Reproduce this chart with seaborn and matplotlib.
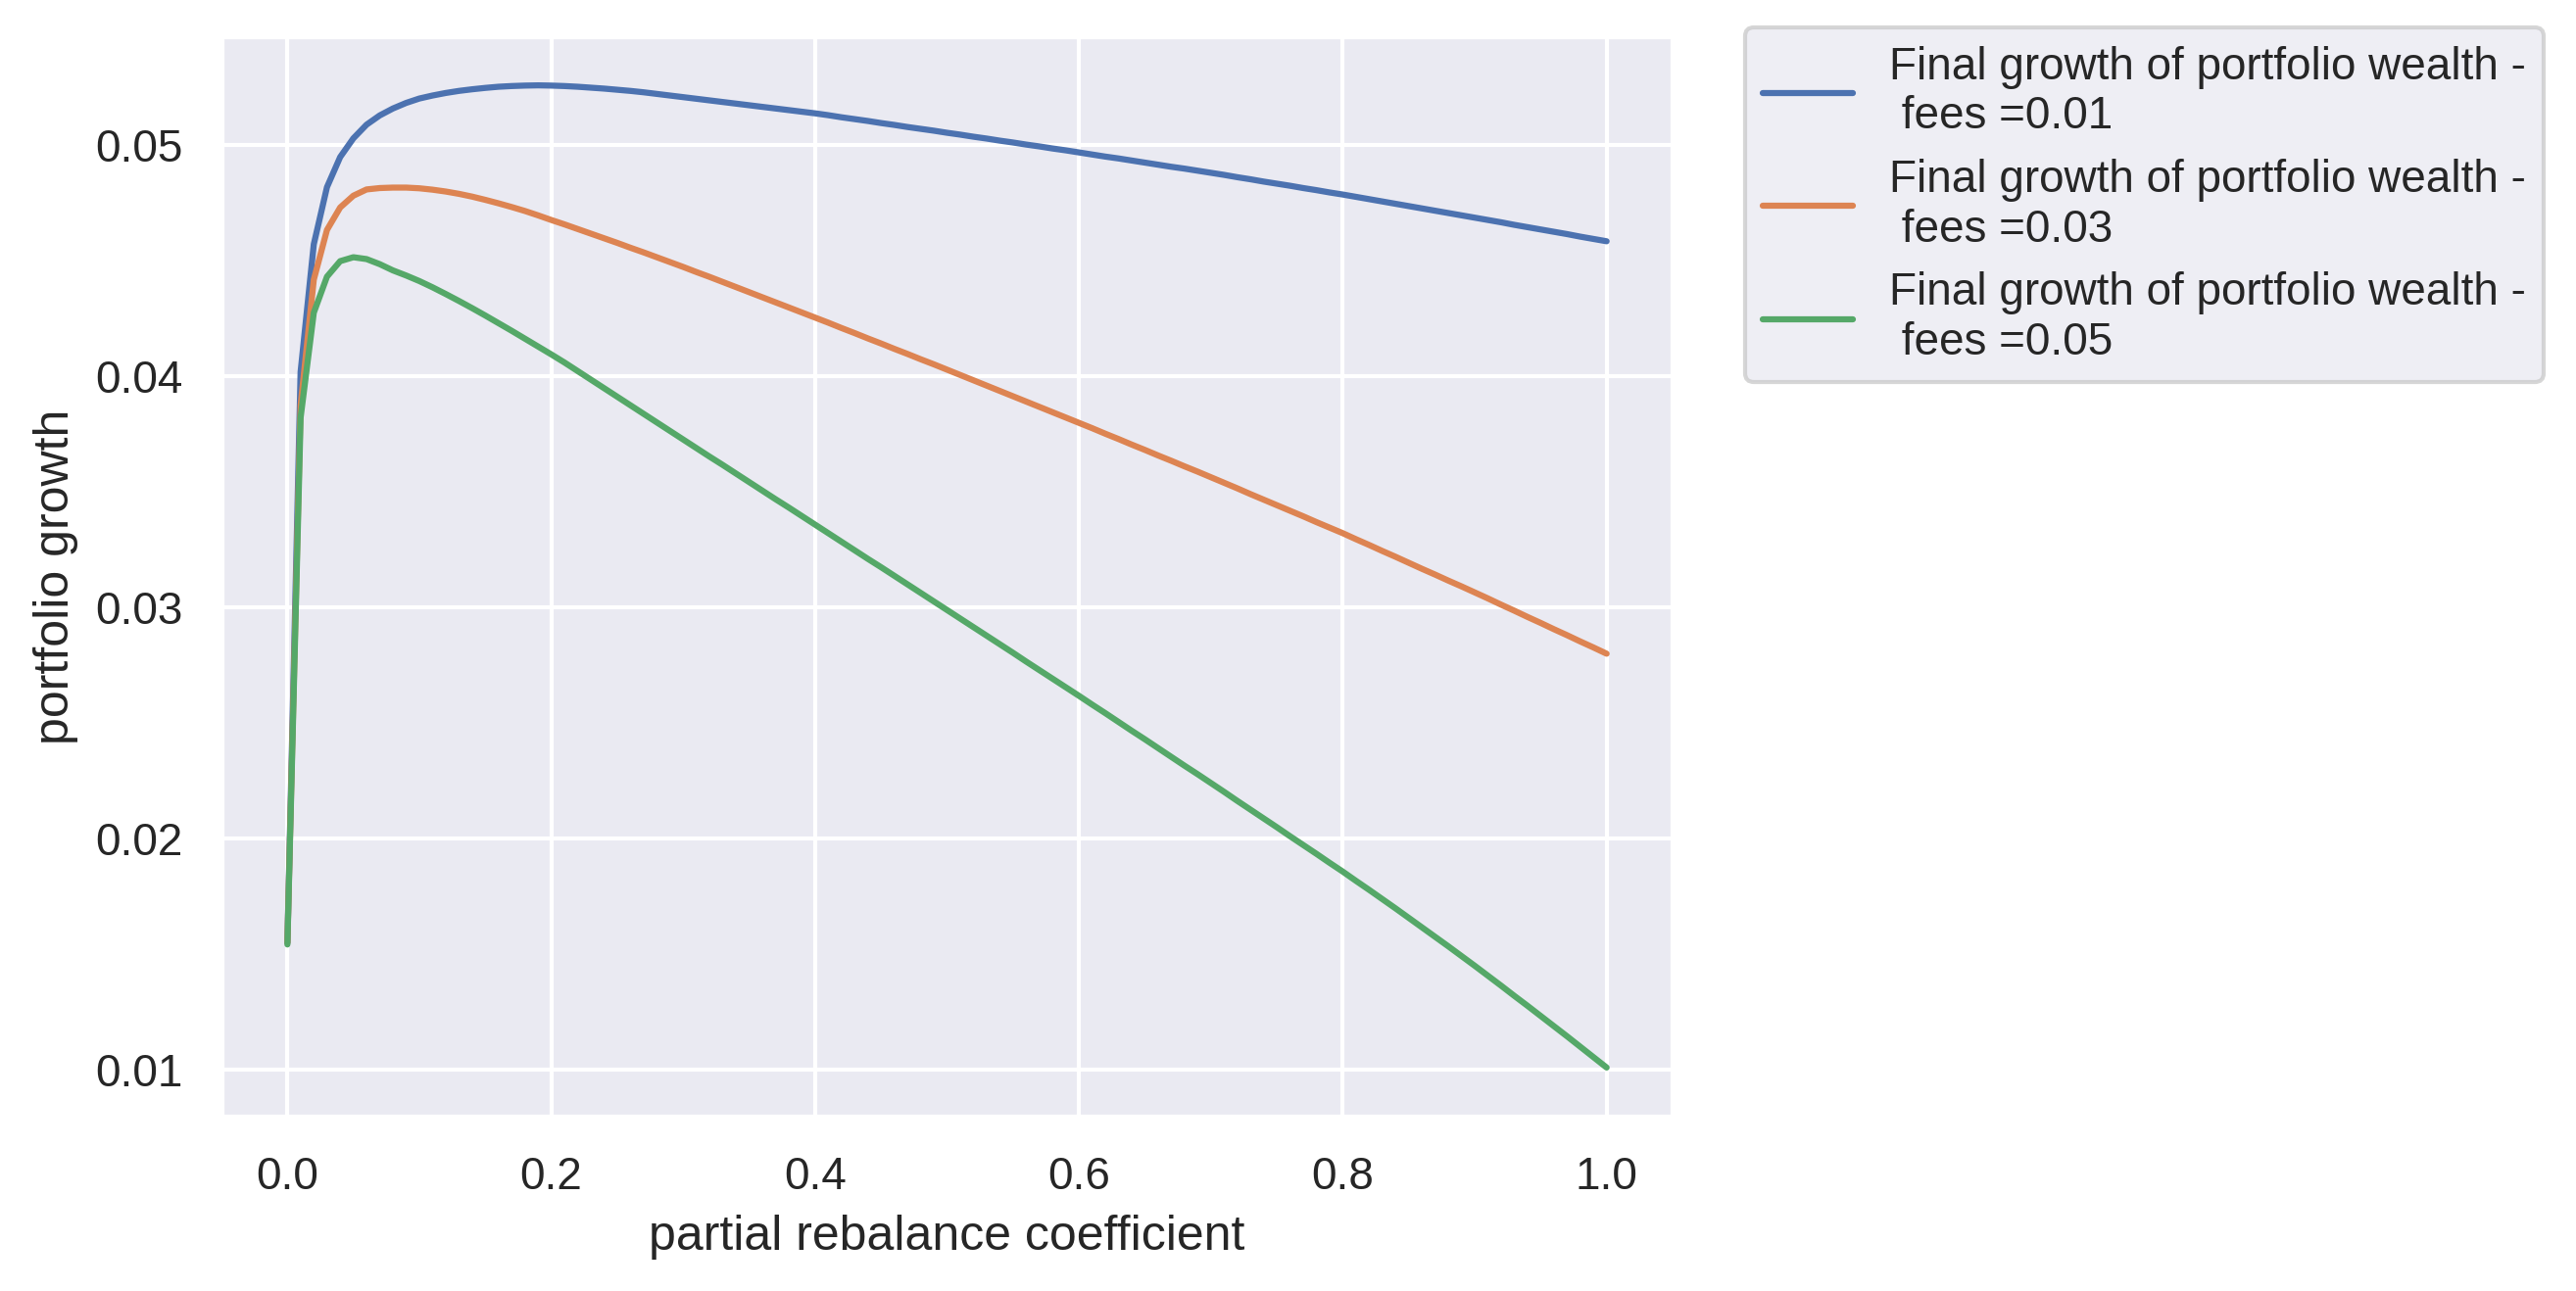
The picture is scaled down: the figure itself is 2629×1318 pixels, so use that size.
import numpy as np
import pandas as pd
import matplotlib
matplotlib.use("Agg")
import matplotlib.pyplot as plt
import seaborn as sns

# partial rebalance coefficient, 0.00 .. 1.00 step 0.01
coef = [round(i / 100, 2) for i in range(101)]

growth_fee_001 = [
    0.01550, 0.04017, 0.04569, 0.04816, 0.04946, 0.05027, 0.05086, 0.05126, 0.05156, 0.05180,
    0.05199, 0.05212, 0.05223, 0.05232, 0.05239, 0.05245, 0.05250, 0.05253, 0.05255, 0.05256,
    0.05255, 0.05253, 0.05250, 0.05246, 0.05242, 0.05237, 0.05232, 0.05226, 0.05219, 0.05212,
    0.05205, 0.05198, 0.05191, 0.05184, 0.05177, 0.05170, 0.05163, 0.05156, 0.05149, 0.05142,
    0.05135, 0.05127, 0.05118, 0.05110, 0.05102, 0.05093, 0.05085, 0.05076, 0.05068, 0.05060,
    0.05051, 0.05043, 0.05034, 0.05026, 0.05017, 0.05009, 0.05000, 0.04992, 0.04983, 0.04975,
    0.04966, 0.04957, 0.04948, 0.04940, 0.04931, 0.04922, 0.04913, 0.04904, 0.04896, 0.04887,
    0.04878, 0.04869, 0.04859, 0.04850, 0.04840, 0.04831, 0.04822, 0.04812, 0.04803, 0.04793,
    0.04784, 0.04774, 0.04764, 0.04754, 0.04744, 0.04734, 0.04724, 0.04714, 0.04704, 0.04694,
    0.04684, 0.04674, 0.04664, 0.04653, 0.04643, 0.04633, 0.04623, 0.04613, 0.04602, 0.04592,
    0.04582,
]

growth_fee_003 = [
    0.01550, 0.03872, 0.04416, 0.04631, 0.04728, 0.04779, 0.04806, 0.04812, 0.04814, 0.04814,
    0.04811, 0.04805, 0.04797, 0.04787, 0.04775, 0.04761, 0.04746, 0.04730, 0.04713, 0.04694,
    0.04674, 0.04655, 0.04635, 0.04615, 0.04595, 0.04575, 0.04554, 0.04534, 0.04513, 0.04492,
    0.04471, 0.04449, 0.04428, 0.04406, 0.04384, 0.04362, 0.04340, 0.04318, 0.04296, 0.04274,
    0.04252, 0.04230, 0.04207, 0.04185, 0.04162, 0.04140, 0.04117, 0.04095, 0.04072, 0.04050,
    0.04027, 0.04004, 0.03981, 0.03958, 0.03935, 0.03912, 0.03889, 0.03866, 0.03843, 0.03820,
    0.03797, 0.03774, 0.03750, 0.03727, 0.03703, 0.03680, 0.03656, 0.03633, 0.03609, 0.03586,
    0.03562, 0.03538, 0.03514, 0.03489, 0.03465, 0.03441, 0.03417, 0.03393, 0.03368, 0.03344,
    0.03320, 0.03294, 0.03269, 0.03243, 0.03218, 0.03192, 0.03166, 0.03141, 0.03115, 0.03090,
    0.03064, 0.03038, 0.03011, 0.02985, 0.02958, 0.02932, 0.02905, 0.02879, 0.02852, 0.02826,
    0.02799,
]

growth_fee_005 = [
    0.01542, 0.03819, 0.04273, 0.04429, 0.04496, 0.04513, 0.04505, 0.04483, 0.04456, 0.04434,
    0.04410, 0.04383, 0.04354, 0.04324, 0.04293, 0.04261, 0.04228, 0.04195, 0.04161, 0.04127,
    0.04093, 0.04058, 0.04021, 0.03984, 0.03947, 0.03910, 0.03873, 0.03836, 0.03799, 0.03762,
    0.03725, 0.03688, 0.03651, 0.03615, 0.03578, 0.03541, 0.03504, 0.03467, 0.03431, 0.03394,
    0.03357, 0.03320, 0.03283, 0.03246, 0.03209, 0.03173, 0.03136, 0.03099, 0.03062, 0.03025,
    0.02988, 0.02951, 0.02914, 0.02877, 0.02840, 0.02803, 0.02765, 0.02728, 0.02691, 0.02654,
    0.02617, 0.02579, 0.02542, 0.02504, 0.02466, 0.02429, 0.02391, 0.02353, 0.02315, 0.02278,
    0.02240, 0.02202, 0.02163, 0.02125, 0.02087, 0.02049, 0.02010, 0.01972, 0.01934, 0.01895,
    0.01857, 0.01817, 0.01778, 0.01738, 0.01698, 0.01657, 0.01616, 0.01575, 0.01534, 0.01492,
    0.01450, 0.01407, 0.01364, 0.01320, 0.01277, 0.01233, 0.01189, 0.01145, 0.01100, 0.01055,
    0.01010,
]

fees = [0.01, 0.03, 0.05]
series = [growth_fee_001, growth_fee_003, growth_fee_005]

rows = []
for fee, vals in zip(fees, series):
    label = "Final growth of portfolio wealth -\n fees =" + str(fee)
    for c, v in zip(coef, vals):
        rows.append({"coef": c, "growth": v, "label": label})
df = pd.DataFrame(rows)

sns.set_theme()
plt.rcParams["font.family"] = ["Liberation Sans", "DejaVu Sans"]

fig = plt.figure(figsize=(2629 / 300, 1318 / 300), dpi=300)
ax = fig.add_axes([226 / 2629, 178 / 1318, (1707 - 226) / 2629, (1281 - 178) / 1318])

sns.lineplot(data=df, x="coef", y="growth", hue="label", ax=ax)

ax.set_xlabel("partial rebalance coefficient")
ax.set_ylabel("portfolio growth")
ax.legend(bbox_to_anchor=(1.05, 1.008), loc="upper left", borderaxespad=0,
          labelspacing=0.45)

fig.savefig("out.png", dpi=300)
